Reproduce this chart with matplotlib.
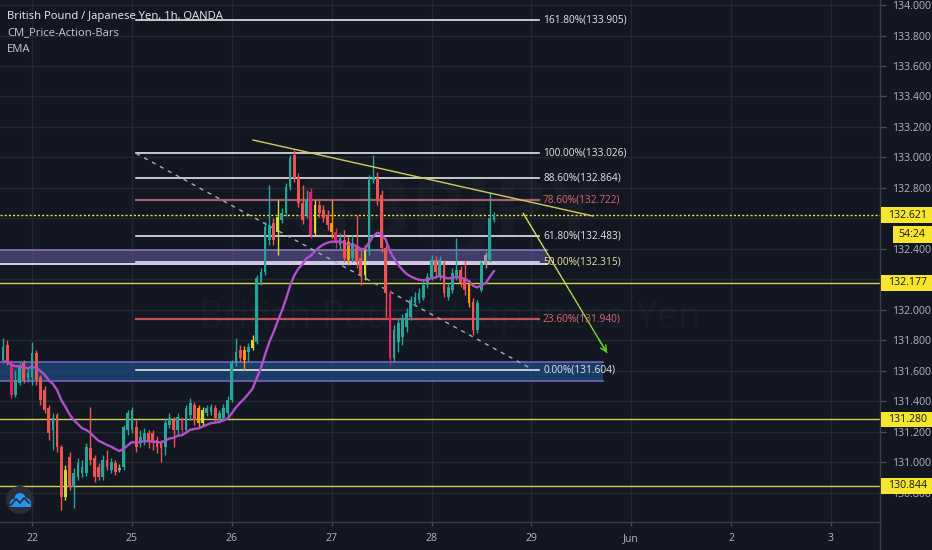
import numpy as np
import matplotlib
matplotlib.use("Agg")
import matplotlib.pyplot as plt
from matplotlib.patches import Rectangle, Circle
from matplotlib.collections import LineCollection
from matplotlib.lines import Line2D
import matplotlib.transforms as mtransforms

# ---------------- data (GBPJPY 1h, OANDA) ----------------
opens = [131.670,131.768,131.650,131.440,131.519,131.650,131.552,131.558,131.716,131.558,
         131.473,131.355,131.210,131.309,131.099,130.771,131.033,130.836,130.902,130.928,
         130.928,131.092,131.027,130.968,130.902,131.013,130.948,130.994,130.961,130.968,
         131.210,131.210,131.230,131.125,131.145,131.191,131.191,131.145,131.125,131.099,
         131.243,131.276,131.210,131.276,131.210,131.309,131.375,131.355,131.256,131.322,
         131.329,131.355,131.276,131.289,131.322,131.407,131.650,131.735,131.735,131.722,
         131.749,131.788,132.182,132.248,132.458,132.569,132.510,132.589,132.635,132.806,
         133.016,132.865,132.701,132.622,132.773,132.504,132.687,132.655,132.622,132.569,
         132.510,132.425,132.458,132.444,132.339,132.425,132.339,132.228,132.392,132.852,
         132.865,132.753,132.405,132.110,131.683,131.788,131.821,131.887,131.952,132.044,
         132.064,132.077,132.162,132.215,132.326,132.215,132.307,132.083,132.129,132.215,
         132.261,132.208,132.175,132.051,131.867,132.129,132.359,132.326,132.589]
highs = [131.814,131.801,131.670,131.604,131.650,131.670,131.617,131.788,131.735,131.572,
         131.499,131.375,131.322,131.322,131.112,130.981,131.066,130.961,131.027,131.013,
         131.125,131.361,131.046,130.994,131.046,131.079,131.027,131.013,130.987,131.243,
         131.342,131.361,131.276,131.210,131.224,131.210,131.210,131.171,131.145,131.289,
         131.322,131.296,131.322,131.296,131.375,131.421,131.394,131.375,131.361,131.375,
         131.381,131.375,131.342,131.381,131.434,131.670,131.814,131.768,131.762,131.781,
         131.834,132.228,132.274,132.576,132.819,132.602,132.720,132.668,132.832,133.016,
         133.048,132.897,132.819,132.786,132.799,132.720,132.720,132.687,132.655,132.720,
         132.536,132.504,132.523,132.477,132.490,132.622,132.392,132.425,132.884,133.016,
         132.904,132.786,132.425,132.129,131.900,131.946,131.972,132.011,132.090,132.116,
         132.143,132.195,132.241,132.359,132.353,132.353,132.326,132.175,132.274,132.471,
         132.287,132.326,132.195,132.077,132.064,132.326,132.379,132.766,132.641]
lows = [131.650,131.637,131.421,131.427,131.506,131.519,131.526,131.506,131.506,131.375,
        131.322,131.145,131.079,131.066,130.685,130.751,130.817,130.698,130.882,130.902,
        130.909,130.981,130.869,130.882,130.882,130.948,130.928,130.915,130.935,130.948,
        131.178,131.191,131.066,131.099,131.112,131.092,131.079,131.059,131.000,131.046,
        131.224,131.099,131.178,131.191,131.191,131.276,131.243,131.230,131.243,131.302,
        131.309,131.263,131.256,131.276,131.309,131.394,131.630,131.657,131.604,131.657,
        131.735,131.775,132.162,132.228,132.425,132.425,132.359,132.569,132.615,132.786,
        132.838,132.674,132.563,132.602,132.471,132.490,132.609,132.576,132.523,132.471,
        132.405,132.392,132.313,132.294,132.313,132.274,132.162,132.195,132.359,132.832,
        132.687,132.379,131.952,131.637,131.657,131.722,131.768,131.854,131.932,132.024,
        132.044,132.064,132.143,132.195,132.221,132.195,132.083,132.064,132.110,132.195,
        132.149,132.097,132.018,131.834,131.847,132.116,132.274,132.313,132.576]
closes = [131.755,131.657,131.440,131.539,131.624,131.539,131.585,131.716,131.539,131.407,
          131.342,131.191,131.289,131.099,130.771,130.948,130.836,130.928,130.994,130.968,
          131.099,131.013,130.902,130.902,131.013,130.968,131.000,130.935,130.948,131.230,
          131.322,131.342,131.099,131.164,131.191,131.132,131.125,131.099,131.092,131.256,
          131.289,131.210,131.296,131.210,131.355,131.388,131.276,131.256,131.342,131.355,
          131.361,131.289,131.322,131.355,131.407,131.650,131.722,131.683,131.670,131.755,
          131.801,132.208,132.248,132.543,132.556,132.458,132.609,132.635,132.806,132.996,
          132.865,132.701,132.589,132.720,132.490,132.687,132.635,132.602,132.556,132.510,
          132.438,132.471,132.339,132.326,132.438,132.313,132.228,132.392,132.852,132.871,
          132.720,132.405,132.110,131.683,131.867,131.913,131.946,131.979,132.064,132.083,
          132.110,132.162,132.215,132.326,132.248,132.326,132.110,132.149,132.241,132.261,
          132.175,132.129,132.044,131.867,132.044,132.307,132.294,132.602,132.621]
# CM_Price-Action-Bars colouring: u=up, d=down, p=pink, y=pin bar, o=outside, g=inside
bar_kinds = ("udpuuduuddddudd" "yduuuudddududgu" "uuduudddduudupu" "udoyuuduuuuudou"
             "yuuuudyuuudddup" "ydddopudouddyuu" "dddpuuuuuuuuuud" "uduuuddoduuguu")

ema_period = 20
ema_seed = 131.65

day_ticks = [7, 31, 55, 79, 103, 127, 151, 175, 199]
day_labels = ["22", "25", "26", "27", "28", "29", "Jun", "2", "3"]

fib_pcts = [161.8, 100.0, 88.6, 78.6, 61.8, 50.0, 23.6, 0.0]
fib_prices = [133.905, 133.026, 132.864, 132.722, 132.483, 132.315, 131.940, 131.604]
fib_x = (32.0, 128.8)

level_lines = [132.177, 131.280, 130.844]
last_price = 132.621
countdown = "54:24"

purple_zone = (132.300, 132.392, -1.0, 130.8)
blue_zone = (131.532, 131.657, -1.0, 144.2)
trend_line = ((60.1, 133.114), (141.8, 132.615))
fib_trend = ((32.0, 133.026), (127.6, 131.604))
arrow_path = ((125.0, 132.635), (145.2, 131.716))

# ---------------- styling ----------------
BG = "#131722"
GRID = "#242833"
TXT = "#b2b5be"
kind_colors = {"u": "#26a69a", "d": "#ef5350", "p": "#e91e63",
               "y": "#cddc39", "o": "#ff9800", "g": "#9e9e9e"}
plt.rcParams["font.family"] = ["Open Sans", "DejaVu Sans"]

W, H = 932, 550
fig = plt.figure(figsize=(W / 100, H / 100), dpi=100)
fig.patch.set_facecolor(BG)
ax = fig.add_axes([0, 28 / H, 880 / W, 522 / H])
ax.set_facecolor(BG)
ax.set_xlim(-0.721, 210.8)
ax.set_ylim(130.607, 134.033)

# grid
price_ticks = np.round(np.arange(130.8, 134.0001, 0.2), 3)
for p in price_ticks:
    ax.axhline(p, color=GRID, lw=1, zorder=0)
for d in day_ticks:
    ax.axvline(d, color=GRID, lw=1, zorder=0)

# watermark (very faint)
fig.text(445 / W, 1 - 215 / H, "GBPJPY", fontsize=62, fontweight="bold",
         color="white", alpha=0.022, ha="center", va="center", zorder=0.5)
fig.text(450 / W, 1 - 318 / H, "British Pound / Japanese Yen", fontsize=27,
         color="white", alpha=0.022, ha="center", va="center", zorder=0.5)

# zones
lo, hi, x0, x1 = purple_zone
ax.add_patch(Rectangle((x0, lo), x1 - x0, hi - lo, facecolor="#63559a", alpha=0.6,
                       edgecolor="none", zorder=1))
ax.plot([x0, x1], [hi, hi], color="#8676bd", lw=1.2, zorder=1.1)
ax.plot([x0, x1], [lo, lo], color="#d9cff0", lw=1.4, zorder=1.1)
lo, hi, x0, x1 = blue_zone
ax.add_patch(Rectangle((x0, lo), x1 - x0, hi - lo, facecolor="#1d4a7e", alpha=0.75,
                       edgecolor="none", zorder=1))
ax.plot([x0, x1], [hi, hi], color="#7463c0", lw=1.2, zorder=1.1)
ax.plot([x0, x1], [lo, lo], color="#7463c0", lw=1.2, zorder=1.1)

# horizontal levels
for lv in level_lines:
    ax.axhline(lv, color="#d7cf4f", lw=1, zorder=2)
ax.axhline(last_price, color="#f3e63a", lw=1, ls=(0, (1.5, 1.5)), zorder=2)

# fib retracement
fib_line_colors = ["#e6e6e6", "#e6e6e6", "#e6e6e6", "#a85c72", "#e6e6e6", "#e8e2f0", "#c2505a", "#e6e6e6"]
fib_text_colors = ["#e6e6e6", "#e6e6e6", "#e6e6e6", "#e0646f", "#e6e6e6", "#e8e49e", "#e0646f", "#e6e6e6"]
for pct, pr, lc, tc in zip(fib_pcts, fib_prices, fib_line_colors, fib_text_colors):
    lw = 1.6 if pct in (78.6, 23.6) else 1.2
    ax.plot(fib_x, [pr, pr], color=lc, lw=lw, zorder=2.2)
    ax.text(fib_x[1] + 1.0, pr, f"{pct:.2f}%({pr:.3f})", color=tc, fontsize=7.3,
            va="center", ha="left", zorder=6)
(fx0, fy0), (fx1, fy1) = fib_trend
ax.plot([fx0, fx1], [fy0, fy1], color="#a9adb8", lw=1, ls=(0, (3, 3.5)), zorder=2.3)

# candles
xs = np.arange(len(closes))
cols = [kind_colors[k] for k in bar_kinds]
o = np.array(opens); c = np.array(closes)
bottoms = np.minimum(o, c)
heights = np.maximum(np.abs(c - o), 0.005)
ax.vlines(xs, lows, highs, colors=cols, lw=1, zorder=3)
ax.bar(xs, heights, bottom=bottoms, width=0.66, color=cols, edgecolor="none", zorder=3.1)

# EMA
ema = []
e = ema_seed
k = 2 / (ema_period + 1)
for cl in closes:
    e = e + (cl - e) * k
    ema.append(e)
ax.plot(xs, ema, color="#b04fc9", lw=1.7, zorder=3.5)

# trend line
(tx0, ty0), (tx1, ty1) = trend_line
ax.plot([tx0, tx1], [ty0, ty1], color="#d2cb5a", lw=1, zorder=4)

# arrow with gradient yellow -> green
(ax0, ay0), (ax1, ay1) = arrow_path
t = np.linspace(0, 1, 40)
px = ax0 + (ax1 - ax0) * t
py = ay0 + (ay1 - ay0) * t
segs = np.stack([np.column_stack([px[:-1], py[:-1]]), np.column_stack([px[1:], py[1:]])], axis=1)
c_start = np.array(matplotlib.colors.to_rgb("#e2de62"))
c_end = np.array(matplotlib.colors.to_rgb("#5fd41e"))
seg_cols = [tuple(c_start + (c_end - c_start) * (tt ** 2)) for tt in t[:-1]]
ax.add_collection(LineCollection(segs, colors=seg_cols, lw=1, zorder=4))
ax.annotate("", xy=(ax1, ay1), xytext=(ax0 + (ax1 - ax0) * 0.9, ay0 + (ay1 - ay0) * 0.9),
            arrowprops=dict(arrowstyle="->", color="#5fd41e", lw=1, mutation_scale=11,
                            shrinkA=0, shrinkB=0), zorder=4)

# axes styling
for s in ("top", "left"):
    ax.spines[s].set_visible(False)
for s in ("right", "bottom"):
    ax.spines[s].set_color("#3a3e4a")
    ax.spines[s].set_linewidth(1)
ax.yaxis.tick_right()
ax.set_yticks(price_ticks)
ax.set_yticklabels([f"{p:.3f}" for p in price_ticks])
ax.tick_params(axis="y", colors="#4a4e5a", labelcolor=TXT, labelsize=7.6, length=4, pad=5, width=1)
ax.set_xticks(day_ticks)
ax.set_xticklabels(day_labels)
ax.tick_params(axis="x", colors="#4a4e5a", labelcolor=TXT, labelsize=7.6, length=3, pad=5, width=1)
fig.add_artist(Line2D([880 / W, 880 / W], [0, 28 / H], transform=fig.transFigure,
                      color="#3a3e4a", lw=1))

# price-axis labels (yellow boxes)
blend = mtransforms.blended_transform_factory(fig.transFigure, ax.transData)
box_h = 0.102
for lv in [last_price] + level_lines:
    fig.add_artist(Rectangle((881 / W, lv - box_h / 2), 51 / W, box_h, transform=blend,
                             facecolor="#f7e62c", edgecolor="none", zorder=5))
    fig.add_artist(matplotlib.text.Text(888 / W, lv, f"{lv:.3f}", transform=blend,
                                        color="#131722", fontsize=7.6, va="center", ha="left",
                                        zorder=6, family=["Open Sans", "DejaVu Sans"]))
cd_y = last_price - 0.125
fig.add_artist(Rectangle((893 / W, cd_y - 0.055), 39 / W, 0.11, transform=blend,
                         facecolor="#f7e62c", edgecolor="none", zorder=5))
fig.add_artist(matplotlib.text.Text(898 / W, cd_y, countdown, transform=blend,
                                    color="#131722", fontsize=7.6, va="center", ha="left",
                                    zorder=6, family=["Open Sans", "DejaVu Sans"]))

# legend texts
fig.text(7 / W, 1 - 16 / H, "British Pound / Japanese Yen, 1h, OANDA", color="#eceef2",
         fontsize=8.1, va="center", ha="left", zorder=7)
fig.text(7 / W, 1 - 32.5 / H, "CM_Price-Action-Bars", color="#c8cad1",
         fontsize=8.1, va="center", ha="left", zorder=7)
fig.text(7 / W, 1 - 49 / H, "EMA", color="#c8cad1",
         fontsize=8.1, va="center", ha="left", zorder=7)

# TradingView logo
lg = fig.add_axes([0, 0, 1, 1], zorder=8)
lg.set_xlim(0, W); lg.set_ylim(H, 0); lg.axis("off"); lg.patch.set_alpha(0)
lg.add_patch(Circle((20, 500), 14, facecolor="#2a2e39", edgecolor="none"))
for cx, cy, r in [(14, 503, 4), (20, 498.5, 5.5), (26.5, 502.5, 4.2)]:
    lg.add_patch(Circle((cx, cy), r, facecolor="#2196f3", edgecolor="none"))
lg.add_patch(Rectangle((10, 502), 20.5, 5, facecolor="#2196f3", edgecolor="none"))
lg.plot([11, 16, 20, 24, 29], [505, 499, 503, 498, 503], color="#2a2e39", lw=1.3)

fig.savefig("out.png", dpi=100, facecolor=BG)
